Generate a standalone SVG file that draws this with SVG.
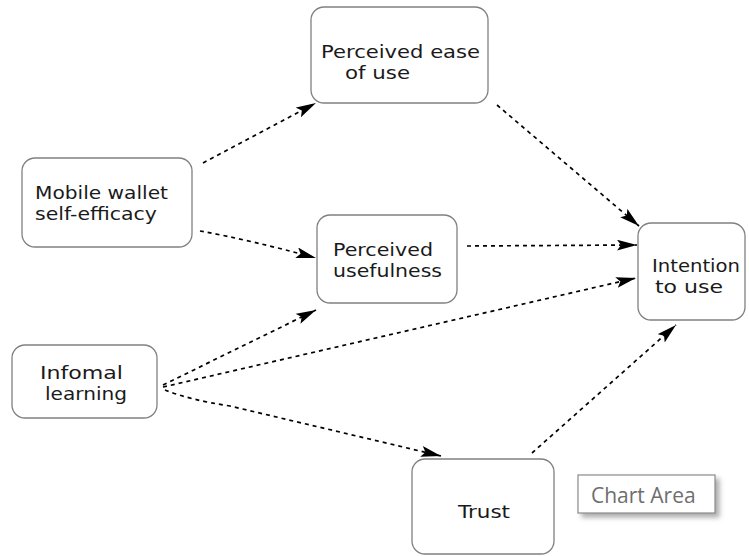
<svg xmlns="http://www.w3.org/2000/svg" width="749" height="556" viewBox="0 0 749 556">
  <style>
    .box { fill: #ffffff; stroke: #808080; stroke-width: 1.3; }
    .lbl { font-family: "DejaVu Sans", Verdana, sans-serif; font-size: 18px; fill: #1a1a1a; }
    .edge { fill: none; stroke: #000000; stroke-width: 1.7; stroke-dasharray: 4 4; marker-end: url(#arrow); }
    .tip { fill: #ffffff; stroke: #8a8a8a; stroke-width: 1.2; }
    .tiptext { font-family: "Open Sans", "DejaVu Sans", sans-serif; font-size: 21px; fill: #6e6e6e; }
  </style>
  <defs>
    <marker id="arrow" markerUnits="userSpaceOnUse" markerWidth="22" markerHeight="12" refX="20" refY="5.5" orient="auto">
      <path d="M0,0 L20,5.5 L0,11 L4,5.5 z" fill="#000000"/>
    </marker>
    <filter id="shadow" x="-10%" y="-20%" width="130%" height="160%">
      <feDropShadow dx="4" dy="4" stdDeviation="2.5" flood-color="#9a9a9a" flood-opacity="0.8"/>
    </filter>
  </defs>

  <rect width="749" height="556" fill="#ffffff"/>

  <!-- connectors -->
  <g id="connectors">
    <path class="edge" d="M203,163 L316,103"/>
    <path class="edge" d="M200,231 Q250,240 316,258"/>
    <path class="edge" d="M497,105 L639,226"/>
    <path class="edge" d="M467,246 L637,245"/>
    <path class="edge" d="M163,387 L636,278"/>
    <path class="edge" d="M163,385 L316,310"/>
    <path class="edge" d="M165,390 Q190,400 230,406 L441,456"/>
    <path class="edge" d="M532,453 L676,325"/>
  </g>

  <!-- nodes -->
  <g id="peou">
    <rect class="box" x="311" y="7" width="177" height="96" rx="13"/>
    <text class="lbl" x="321" y="58" textLength="159" lengthAdjust="spacingAndGlyphs">Perceived ease</text>
    <text class="lbl" x="345" y="79" textLength="65" lengthAdjust="spacingAndGlyphs">of use</text>
  </g>

  <g id="mwse">
    <rect class="box" x="22" y="158" width="170" height="89" rx="13"/>
    <text class="lbl" x="35" y="199" textLength="133" lengthAdjust="spacingAndGlyphs">Mobile wallet</text>
    <text class="lbl" x="35" y="220" textLength="122" lengthAdjust="spacingAndGlyphs">self-efficacy</text>
  </g>

  <g id="pu">
    <rect class="box" x="317" y="215" width="140" height="88" rx="13"/>
    <text class="lbl" x="333" y="256" textLength="100" lengthAdjust="spacingAndGlyphs">Perceived</text>
    <text class="lbl" x="333" y="277" textLength="109" lengthAdjust="spacingAndGlyphs">usefulness</text>
  </g>

  <g id="itu">
    <rect class="box" x="638" y="223" width="107" height="97" rx="13"/>
    <text class="lbl" x="652" y="272" textLength="88" lengthAdjust="spacingAndGlyphs">Intention</text>
    <text class="lbl" x="655" y="293" textLength="68" lengthAdjust="spacingAndGlyphs">to use</text>
  </g>

  <g id="il">
    <rect class="box" x="12" y="345" width="145" height="73" rx="13"/>
    <text class="lbl" x="40" y="379" textLength="83" lengthAdjust="spacingAndGlyphs">Infomal</text>
    <text class="lbl" x="45" y="400" textLength="82" lengthAdjust="spacingAndGlyphs">learning</text>
  </g>

  <g id="trust">
    <rect class="box" x="412" y="459" width="142" height="95" rx="13"/>
    <text class="lbl" x="458" y="518" textLength="52" lengthAdjust="spacingAndGlyphs">Trust</text>
  </g>

  <!-- hover tooltip -->
  <g id="chart-area">
    <rect class="tip" x="578" y="475" width="137" height="38" filter="url(#shadow)"/>
    <text class="tiptext" x="591" y="503">Chart Area</text>
  </g>
</svg>
